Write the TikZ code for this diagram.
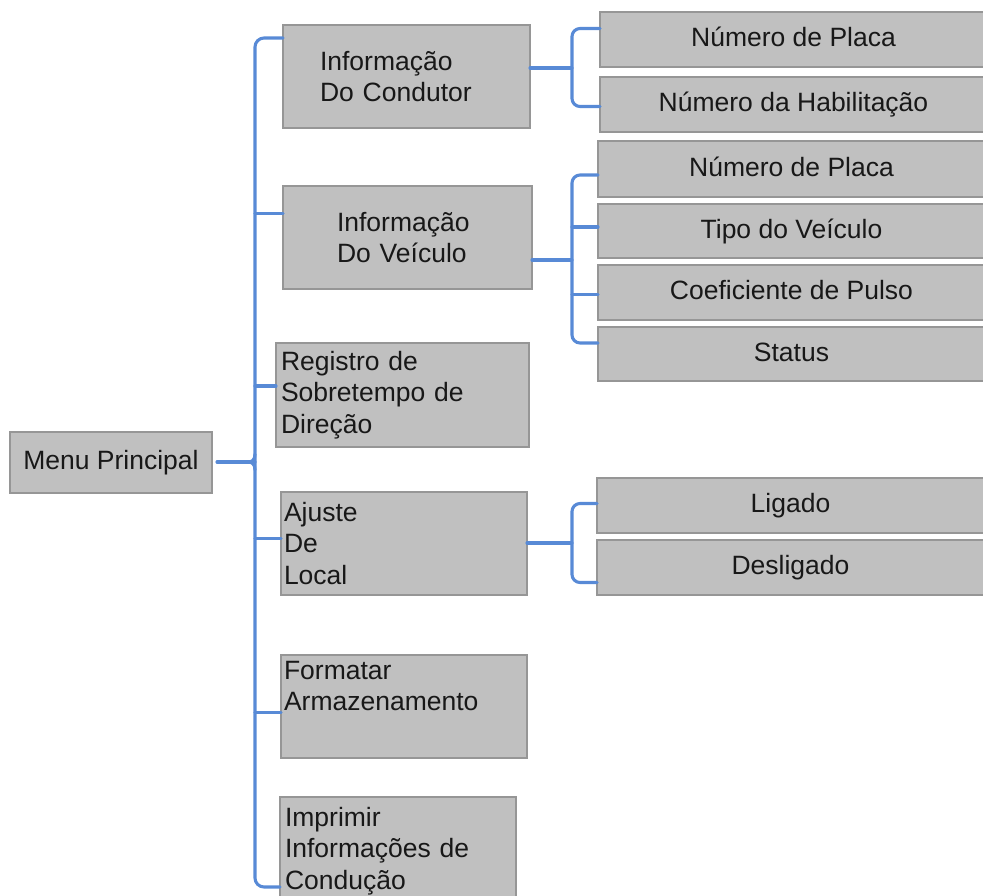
\documentclass[tikz,border=0pt]{standalone}
\usepackage{fontspec}
\setmainfont{Liberation Sans}
\usetikzlibrary{calc}
\definecolor{boxfill}{RGB}{192,192,192}
\definecolor{boxline}{RGB}{150,150,150}
\definecolor{linkc}{RGB}{88,138,214}
\definecolor{txt}{RGB}{24,24,24}
\tikzset{
  box/.style={draw=boxline, fill=boxfill, line width=1.5pt, inner sep=0pt, outer sep=0pt,
    anchor=north west, text=txt, font=\fontsize{26.5}{31.5}\selectfont},
  onebox/.style={box, minimum width=387pt, text height=19pt, text depth=5pt},
  multibox/.style={box, align=left},
  link/.style={draw=linkc, line width=3.1pt, line cap=round, line join=round},
}
\begin{document}
\begin{tikzpicture}[x=1pt,y=-1pt]
\useasboundingbox (0,0) rectangle (983,895);
\clip (0,0) rectangle (983,895);
% left column
\node[box, minimum width=202pt, minimum height=61pt, text height=19pt, text depth=5pt] (menu) at (10,432) {Menu Principal};
% middle column
\node[multibox, minimum width=247pt, minimum height=103pt, text width=173pt] (cond) at (283,25) {Informação\\Do Condutor};
\node[multibox, minimum width=249pt, minimum height=103pt, text width=141pt] (veh) at (283,186) {Informação\\Do Veículo};
\node[multibox, minimum width=253pt, minimum height=104pt, text width=243pt] (reg) at (276,343) {Registro de\\Sobretempo de\\Direção};
\node[multibox, minimum width=246pt, minimum height=103pt, text width=240pt] (aj) at (281,492) {Ajuste\\De\\Local};
\node[multibox, minimum width=246pt, minimum height=103pt, text width=240pt] (fmt) at (281,655) {Formatar\\Armazenamento\\\strut};
\node[multibox, minimum width=236pt, minimum height=108pt, text width=226pt] (imp) at (280,797) {Imprimir\\Informações de\\Condução};
% right column
\node[onebox, minimum height=55pt] (c1) at (600,12) {Número de Placa};
\node[onebox, minimum height=55pt] (c2) at (600,77) {Número da Habilitação};
\node[onebox, minimum height=56pt] (v1) at (598,141) {Número de Placa};
\node[onebox, minimum height=54pt] (v2) at (598,204) {Tipo do Veículo};
\node[onebox, minimum height=55pt] (v3) at (598,265) {Coeficiente de Pulso};
\node[onebox, minimum height=54pt] (v4) at (598,327) {Status};
\node[onebox, minimum height=55pt] (l1) at (597,478) {Ligado};
\node[onebox, minimum height=55pt] (l2) at (597,540) {Desligado};
% main spine
\coordinate (stop) at (255,38);
\coordinate (sbot) at (255,887);
\coordinate (smid) at (255,462);
\draw[link, rounded corners=9pt] (cond.west |- stop) -- (stop) -- (sbot) -- (imp.west |- sbot);
\coordinate (vehin) at ([yshift=24pt]veh.west);
\coordinate (regin) at ([yshift=9pt]reg.west);
\coordinate (ajin) at ([yshift=5pt]aj.west);
\coordinate (fmtin) at ([yshift=-6pt]fmt.west);
\draw[link] (vehin) -- (vehin -| stop);
\draw[link] (regin) -- (regin -| stop);
\draw[link] (ajin) -- (ajin -| stop);
\draw[link] (fmtin) -- (fmtin -| stop);
\draw[link, shorten <=5pt] (menu.east |- smid) -- (smid);
\draw[link] ([yshift=8pt]smid) .. controls ([yshift=2pt]smid) and ([xshift=-3pt]smid) .. ([xshift=-7pt]smid)
  .. controls ([xshift=-3pt]smid) and ([yshift=-2pt]smid) .. ([yshift=-8pt]smid);
% group 1
\coordinate (J1) at (572,68);
\coordinate (c1in) at ([yshift=11pt]c1.west);
\coordinate (c2in) at ([yshift=-2pt]c2.west);
\draw[link] (cond.east |- J1) -- (J1);
\draw[link, rounded corners=8pt] (c1in) -| (J1) |- (c2in);
% group 2
\coordinate (J2) at (572,260);
\coordinate (v1in) at ([yshift=-6pt]v1.west);
\coordinate (v2in) at ([yshift=4pt]v2.west);
\coordinate (v3in) at ([yshift=-2pt]v3.west);
\coordinate (v4in) at ([yshift=11pt]v4.west);
\draw[link] (veh.east |- J2) -- (J2);
\draw[link, rounded corners=8pt] (v1in) -| (J2) |- (v4in);
\draw[link] (v2in) -- (v2in -| J2);
\draw[link] (v3in) -- (v3in -| J2);
% group 3
\coordinate (J3) at (572,543);
\coordinate (l1in) at ([yshift=2pt]l1.west);
\coordinate (l2in) at ([yshift=-15pt]l2.west);
\draw[link] (aj.east |- J3) -- (J3);
\draw[link, rounded corners=8pt] (l1in) -| (J3) |- (l2in);
\end{tikzpicture}
\end{document}
